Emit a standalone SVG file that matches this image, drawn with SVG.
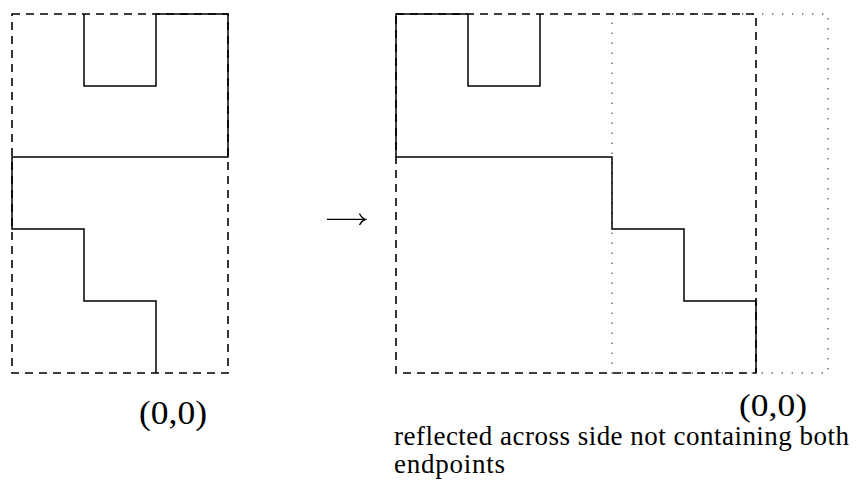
<svg xmlns="http://www.w3.org/2000/svg" width="857" height="481" viewBox="0 0 857 481">
<style>
.dash{fill:none;stroke:#000;stroke-width:1.6;stroke-dasharray:8 6}
.dot{fill:none;stroke:#666;stroke-width:1.4;stroke-dasharray:1.4 8.6}
.path{fill:none;stroke:#000;stroke-width:1.5;stroke-linejoin:miter}
.serif{font-family:"Liberation Serif","DejaVu Serif","Times New Roman",serif;fill:#000}
</style>
<rect width="857" height="481" fill="#fff"/>
<g id="left-panel">
<rect class="dash" x="12" y="14" width="216" height="359"/>
<path class="path" d="M84,14 V86 H156 V14 H228 V157 H12 V229 H84 V301 H156 V373"/>
<text class="serif" x="139" y="424" font-size="33" textLength="68" lengthAdjust="spacingAndGlyphs">(0,0)</text>
</g>
<g id="connectors">
<path d="M327,219.3 H365" fill="none" stroke="#000" stroke-width="1.3"/>
<path d="M359.5,213.5 Q361.5,218 365.5,219.3 Q361.5,220.8 359.5,225" fill="none" stroke="#000" stroke-width="1.3"/>
</g>
<g id="right-panel">
<rect class="dot" x="612" y="14" width="216" height="359"/>
<rect class="dash" x="396" y="14" width="360" height="359"/>
<path class="path" d="M540,14 V86 H468 V14 H396 V157 H612 V229 H684 V301 H756 V373"/>
<text class="serif" x="739" y="416" font-size="32" textLength="68" lengthAdjust="spacingAndGlyphs">(0,0)</text>
<text class="serif" x="394" y="445" font-size="27" textLength="455" lengthAdjust="spacing">reflected across side not containing both</text>
<text class="serif" x="394" y="473" font-size="27" textLength="111" lengthAdjust="spacing">endpoints</text>
</g>
</svg>
